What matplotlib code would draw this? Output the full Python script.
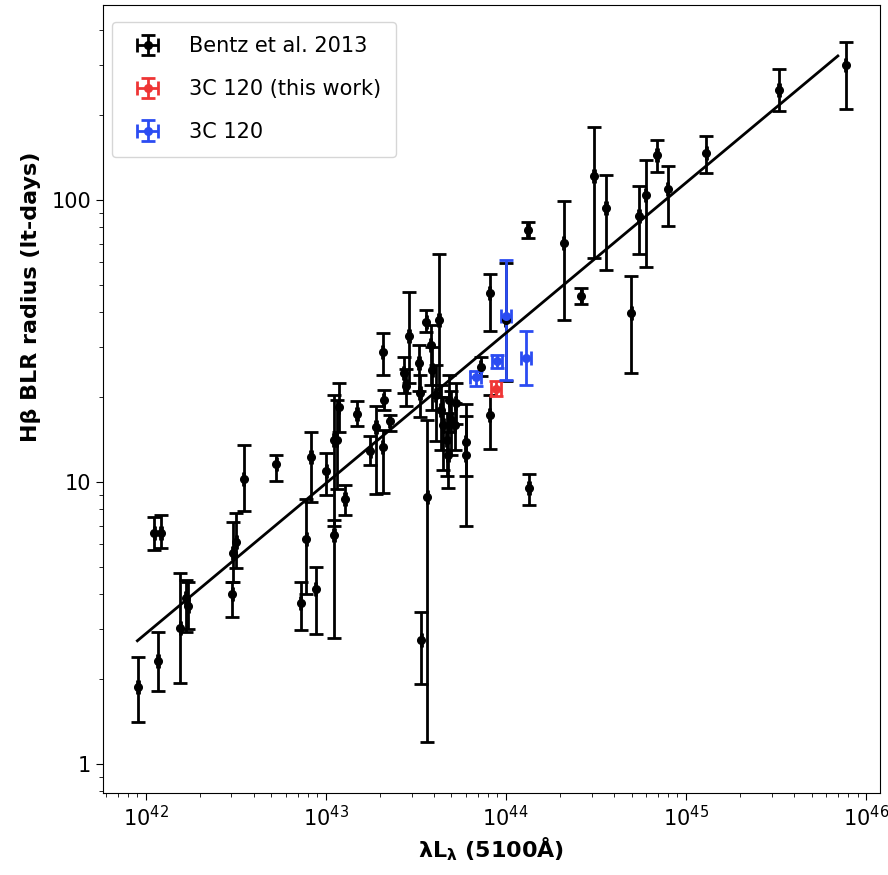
"""R-L relation: H-beta BLR radius vs 5100A luminosity, with 3C 120 points."""

import matplotlib

matplotlib.use("Agg")
import matplotlib.pyplot as plt
import numpy as np
from matplotlib.ticker import FuncFormatter, LogLocator

# --- Bentz et al. 2013 sample: L5100 (erg/s), R (lt-days), upper / lower bounds ---
bentz_L = [
    9.06e41, 1.17e42, 1.12e42, 1.22e42, 1.56e42, 1.67e42, 1.72e42, 3.04e42, 3.19e42, 3.03e42,
    3.5e42, 5.32e42, 8.3e42, 7.82e42, 7.27e42, 8.8e42, 1.01e43, 1.11e43, 1.15e43, 1.18e43,
    1.11e43, 1.28e43, 1.49e43, 1.77e43, 1.9e43, 2.07e43, 2.1e43, 2.07e43, 2.27e43, 2.9e43,
    2.71e43, 2.8e43, 3.62e43, 4.26e43, 3.3e43, 3.35e43, 3.67e43, 3.4e43, 6.0e43, 6.0e43,
    3.83e43, 3.92e43, 4.08e43, 4.35e43, 4.5e43, 4.7e43, 4.87e43, 5.0e43, 4.77e43, 5.27e43,
    5.2e43, 8.15e43, 7.26e43, 8.15e43, 1.0e44, 1.35e44, 1.33e44, 2.1e44, 2.63e44, 3.1e44,
    3.6e44, 4.99e44, 5.5e44, 6.0e44, 6.93e44, 7.94e44, 1.30e45, 3.3e45, 7.74e45,
]
bentz_R = [
    1.88, 2.32, 6.6, 6.58, 3.04, 3.88, 3.63, 5.58, 6.14, 4.01,
    10.2, 11.6, 12.3, 6.27, 3.72, 4.16, 10.97, 14.1, 14.1, 18.5,
    6.49, 8.69, 17.4, 12.9, 15.7, 28.8, 19.5, 13.3, 16.4, 33.0,
    24.3, 21.8, 37.0, 37.5, 26.4, 20.6, 8.87, 2.75, 13.9, 12.5,
    30.6, 25.0, 20.4, 18.0, 15.9, 14.1, 19.5, 16.6, 12.5, 19.0,
    15.9, 46.7, 25.6, 17.3, 37.5, 9.5, 78.3, 70.6, 45.7, 121.7,
    93.5, 39.6, 87.8, 104.0, 144.5, 109.0, 147.0, 245.0, 301.0,
]
bentz_R_hi = [
    2.40, 2.93, 7.5, 7.6, 4.77, 4.49, 4.4, 7.21, 7.76, 4.42,
    13.5, 12.5, 15.0, 8.73, 4.43, 5.0, 12.7, 20.4, 19.5, 22.4,
    7.3, 9.75, 19.3, 14.5, 18.6, 33.7, 21.2, 15.3, 17.3, 47.3,
    27.8, 25.1, 40.7, 64.4, 30.5, 24.0, 16.6, 3.47, 18.9, 17.1,
    36.0, 30.0, 26.0, 22.0, 20.0, 17.5, 24.0, 21.0, 16.0, 22.5,
    19.0, 54.7, 27.8, 20.4, 59.8, 10.7, 83.8, 99.0, 48.6, 182.0,
    122.6, 53.5, 112.0, 138.6, 163.0, 132.0, 169.0, 290.0, 364.0,
]
bentz_R_lo = [
    1.41, 1.82, 5.74, 5.82, 1.94, 2.94, 3.0, 4.42, 4.95, 3.32,
    7.9, 10.1, 8.5, 3.99, 2.99, 2.89, 9.0, 7.0, 9.4, 15.0,
    2.8, 7.64, 15.8, 11.5, 9.06, 23.9, 18.0, 9.1, 15.1, 22.4,
    20.6, 18.6, 34.1, 20.0, 21.0, 17.0, 1.2, 1.92, 10.5, 7.0,
    22.0, 18.0, 14.0, 13.0, 11.0, 10.5, 15.0, 12.5, 9.5, 16.0,
    13.0, 34.4, 23.7, 13.1, 22.8, 8.3, 73.1, 37.5, 42.8, 62.0,
    56.5, 24.4, 64.4, 58.0, 126.0, 81.0, 125.0, 207.0, 210.0,
]

# --- 3C 120 (this work) ---
this_L = [8.87e43]
this_R = [21.4]
this_R_hi = [22.7]
this_R_lo = [20.1]

# --- 3C 120 (earlier measurements) ---
prev_L = [6.8e43, 9.0e43, 1.01e44, 1.30e44]
prev_R = [23.6, 26.9, 38.6, 27.5]
prev_R_hi = [24.8, 28.2, 61.0, 34.4]
prev_R_lo = [21.8, 25.3, 23.0, 22.0]

# luminosity uncertainty (dex)
bentz_L_err_dex = 0.004
c120_L_err_dex = 0.028

# Bentz et al. 2013 fit: log R = K + alpha * log(L / 1e44)
fit_K = 1.527
fit_alpha = 0.533
fit_L_range = [9.0e41, 7.0e45]


def _errs(L, R, R_hi, R_lo, dex):
    L = np.asarray(L)
    R = np.asarray(R)
    yerr = [R - np.asarray(R_lo), np.asarray(R_hi) - R]
    xerr = [L - L / 10**dex, L * 10**dex - L]
    return L, R, xerr, yerr


fig = plt.figure(figsize=(8.88, 8.75), dpi=100)
ax = fig.add_axes([0.116, 0.094, 0.875, 0.9])

style = dict(fmt="o", markersize=5.5, elinewidth=2, capsize=5, capthick=2)

L, R, xerr, yerr = _errs(bentz_L, bentz_R, bentz_R_hi, bentz_R_lo, bentz_L_err_dex)
ax.errorbar(L, R, xerr=xerr, yerr=yerr, color="black", label="Bentz et al. 2013", **style)

L, R, xerr, yerr = _errs(this_L, this_R, this_R_hi, this_R_lo, c120_L_err_dex)
ax.errorbar(L, R, xerr=xerr, yerr=yerr, color="#ef3535", label="3C 120 (this work)", **style)

L, R, xerr, yerr = _errs(prev_L, prev_R, prev_R_hi, prev_R_lo, c120_L_err_dex)
ax.errorbar(L, R, xerr=xerr, yerr=yerr, color="#2b4cf2", label="3C 120", **style)

# --- R-L fit line ---
lf = np.logspace(np.log10(fit_L_range[0]), np.log10(fit_L_range[1]), 50)
ax.plot(lf, 10**fit_K * (lf / 1e44) ** fit_alpha, color="black", linewidth=2)

ax.set_xscale("log")
ax.set_yscale("log")
ax.set_xlim(5.8e41, 1.2e46)
ax.set_ylim(0.79, 490)

ax.xaxis.set_major_locator(LogLocator(base=10, numticks=10))
ax.yaxis.set_major_formatter(FuncFormatter(lambda v, _: f"{v:g}"))
ax.tick_params(axis="both", which="major", labelsize=15, length=5)
ax.tick_params(axis="both", which="minor", length=3)

ax.set_xlabel(r"$\mathbf{\lambda L_{\lambda}}$ (5100Å)", fontsize=16, fontweight="bold")
ax.set_ylabel("Hβ BLR radius (lt-days)", fontsize=16, fontweight="bold")
ax.yaxis.set_label_coords(-0.08, 0.63)

ax.legend(
    loc="upper left",
    bbox_to_anchor=(0.012, 0.979),
    borderaxespad=0,
    fontsize=15,
    labelspacing=1.1,
    borderpad=0.7,
    handletextpad=1.0,
)

fig.savefig("out.png", dpi=100)
plt.close(fig)
